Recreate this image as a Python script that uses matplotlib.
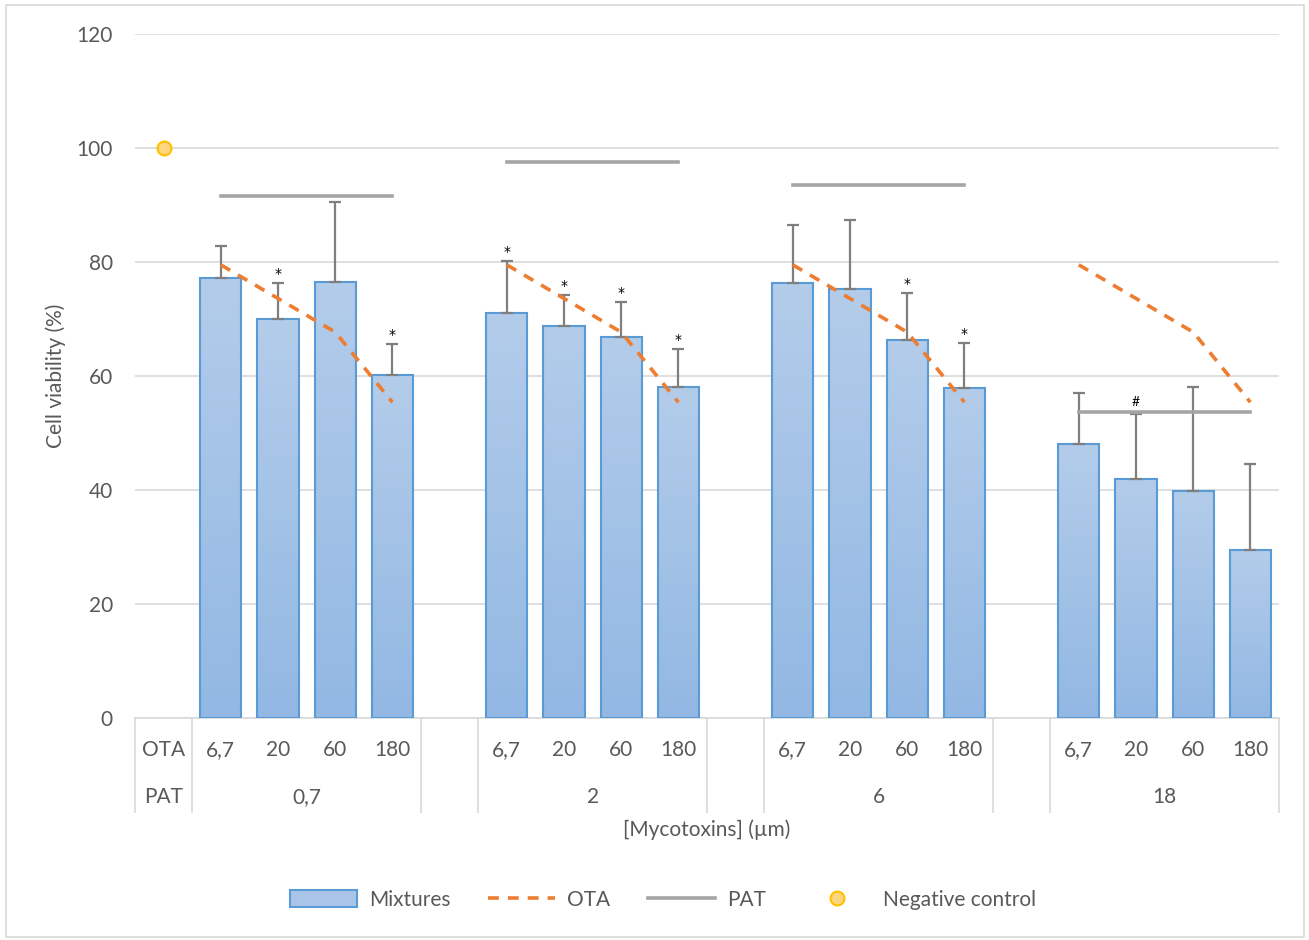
#!/usr/bin/env python3
import numpy as np
import matplotlib
matplotlib.use("Agg")
import matplotlib.pyplot as plt
from matplotlib.patches import Patch, Rectangle
from matplotlib.lines import Line2D
from matplotlib.colors import LinearSegmentedColormap

plt.rcParams["font.family"] = ["Lato", "DejaVu Sans"]

# data
pat_doses = ["0,7", "2", "6", "18"]
ota_doses = ["6,7", "20", "60", "180"]
mixtures = [77.2, 70.0, 76.5, 60.2,
            71.1, 68.8, 66.8, 58.1,
            76.4, 75.3, 66.3, 57.9,
            48.0, 42.0, 39.8, 29.4]
mixtures_err = [5.6, 6.3, 14.0, 5.4,
                9.1, 5.4, 6.2, 6.7,
                10.1, 12.1, 8.3, 7.9,
                9.0, 11.3, 18.3, 15.2]
stars = ["", "*", "", "*",
         "*", "*", "*", "*",
         "", "", "*", "*",
         "", "", "", ""]
ota_alone = [79.5, 73.6, 67.7, 55.4]
pat_alone = [91.6, 97.5, 93.5, 53.6]
pat_marks = ["", "", "", "#"]
neg_control = 100

TXT = "#595959"
GRID = "#D9D9D9"
FS = 15

def main():
    fig = plt.figure(figsize=(13.09, 9.40), dpi=100)
    ax = fig.add_axes([135 / 1309, 222 / 940, 1144 / 1309, 684 / 940])

    xs = np.array([1 + 5 * g + i for g in range(4) for i in range(4)])

    # bars with a soft vertical gradient
    bars = ax.bar(xs, mixtures, width=0.72, facecolor="none",
                  edgecolor="#5B9BD5", linewidth=1.5, zorder=3)
    cmap = LinearSegmentedColormap.from_list("blu", ["#92B8E3", "#B3CCEA"])
    grad = np.linspace(0, 1, 100).reshape(-1, 1)
    for b in bars:
        x0 = b.get_x()
        im = ax.imshow(grad, extent=(x0, x0 + b.get_width(), 0, b.get_height()),
                       origin="lower", aspect="auto", cmap=cmap, zorder=2)
        im.set_clip_path(b)

    ax.errorbar(xs, mixtures, yerr=[np.zeros(len(xs)), mixtures_err], fmt="none",
                ecolor="#7F7F7F", elinewidth=1.6, capsize=4.5, capthick=1.6, zorder=4)
    for x, v, e, s in zip(xs, mixtures, mixtures_err, stars):
        if s:
            ax.text(x, v + e + 0.3, s, ha="center", va="bottom", fontsize=10,
                    color="black", family="DejaVu Sans", zorder=6)

    for g in range(4):
        gx = xs[4 * g:4 * g + 4]
        ax.plot(gx, ota_alone, color="#ED7D31", lw=2.6, ls=(0, (3, 2.5)), zorder=5)
        ax.plot([gx[0], gx[-1]], [pat_alone[g]] * 2, color="#A5A5A5", lw=2.6, zorder=5)
        if pat_marks[g]:
            ax.text(gx[1], pat_alone[g] + 0.8, pat_marks[g], ha="center",
                    va="bottom", fontsize=10, color="black", zorder=6)

    ax.plot([0], [neg_control], "o", ms=10, mfc="#FFD580", mec="#FFC000",
            mew=1.5, zorder=6)

    ax.set_xlim(-0.5, 19.5)
    ax.set_ylim(0, 120)
    ax.set_yticks(range(0, 121, 20))
    ax.yaxis.grid(True, color=GRID, lw=1.2)
    ax.set_axisbelow(True)
    ax.set_xticks([])
    ax.tick_params(axis="y", length=0, pad=16, labelsize=FS, labelcolor=TXT)
    for sp in ["left", "right", "top"]:
        ax.spines[sp].set_visible(False)
    ax.spines["bottom"].set_color(GRID)
    ax.spines["bottom"].set_linewidth(1.2)

    # category table under the axis
    r1, r2, rb = -5.6, -13.9, -16.5
    for xb in [-0.5, 0.5, 4.5, 5.5, 9.5, 10.5, 14.5, 15.5, 19.5]:
        ax.plot([xb, xb], [0, rb], color=GRID, lw=1.2, clip_on=False)
    ax.text(0, r1, "OTA", ha="center", va="center", fontsize=FS, color=TXT)
    ax.text(0, r2, "PAT", ha="center", va="center", fontsize=FS, color=TXT)
    for g in range(4):
        for i in range(4):
            ax.text(1 + 5 * g + i, r1, ota_doses[i], ha="center", va="center",
                    fontsize=FS, color=TXT)
        ax.text(1 + 5 * g + 1.5, r2, pat_doses[g], ha="center", va="center",
                fontsize=FS, color=TXT)

    fig.text(707 / 1309, 1 - 830 / 940, "[Mycotoxins] (\u00b5m)", ha="center",
             va="center", fontsize=FS, color=TXT)
    fig.text(56 / 1309, 1 - 376 / 940, "Cell viability (%)", rotation=90,
             ha="center", va="center", fontsize=FS, color=TXT)

    handles = [
        Patch(facecolor="#A9C4E8", edgecolor="#5B9BD5", lw=1.5),
        Line2D([], [], color="#ED7D31", lw=2.6, ls=(0, (3, 2.5))),
        Line2D([], [], color="#A5A5A5", lw=2.6),
        Line2D([], [], ls="none", marker="o", ms=10, mfc="#FFD580",
               mec="#FFC000", mew=1.5),
    ]
    fig.legend(handles, ["Mixtures", "OTA", "PAT", "Negative control"],
               loc="center", bbox_to_anchor=(663 / 1309, 1 - 900 / 940), ncol=4,
               frameon=False, handlelength=3.2, handleheight=0.9,
               handletextpad=0.6, columnspacing=1.8, fontsize=FS, labelcolor=TXT)

    fig.patches.append(Rectangle((6 / 1309, 3 / 940), 1298 / 1309, 932 / 940,
                                 transform=fig.transFigure, fill=False,
                                 edgecolor=GRID, lw=1.2))

    fig.savefig("out.png", dpi=100)

if __name__ == "__main__":
    main()
